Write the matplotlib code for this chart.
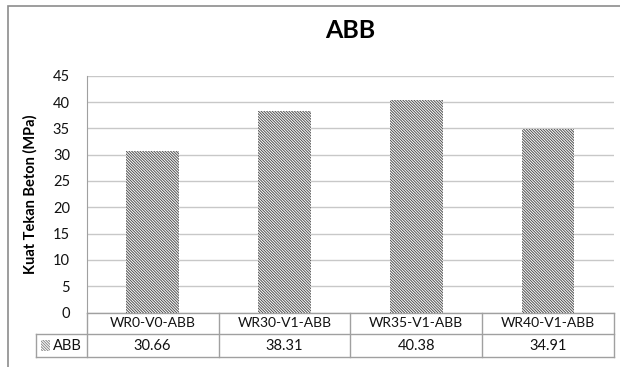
import matplotlib
matplotlib.use('Agg')
import matplotlib.pyplot as plt
from matplotlib.patches import Rectangle
from matplotlib.transforms import blended_transform_factory

plt.rcParams['font.family'] = ['Lato', 'DejaVu Sans']
plt.rcParams['hatch.linewidth'] = 0.7

# data
categories = ['WR0-V0-ABB', 'WR30-V1-ABB', 'WR35-V1-ABB', 'WR40-V1-ABB']
series_name = 'ABB'
strength = [30.66, 38.31, 40.38, 34.91]
y_ticks = [0, 5, 10, 15, 20, 25, 30, 35, 40, 45]

HATCH = '\\' * 12

W, H = 620, 367
fig = plt.figure(figsize=(W / 100, H / 100), dpi=100)

# outer chart border
fig.patches.append(Rectangle((8 / W, -0.05), 1.0, 1 - 6 / H + 0.05,
                             transform=fig.transFigure, fill=False,
                             edgecolor='#8c8c8c', linewidth=1.2))

ax = fig.add_axes([86.7 / W, 1 - 312.5 / H, (614 - 86.7) / W, (312.5 - 75.7) / H])

x = list(range(len(categories)))
ax.bar(x, strength, width=0.4, color='white', edgecolor='#505050',
       hatch=HATCH, linewidth=0, zorder=3)

ax.set_xlim(-0.5, len(categories) - 0.5)
ax.set_ylim(0, 45)
ax.set_yticks(y_ticks)
ax.yaxis.grid(True, color='#c8c8c8', linewidth=1)
ax.set_axisbelow(True)
ax.set_xticks([])
ax.tick_params(axis='y', length=0, labelsize=10.5, pad=12, colors='#111111')
for s in ['top', 'right', 'bottom']:
    ax.spines[s].set_visible(False)
ax.spines['left'].set_color('#a0a0a0')
ax.set_ylabel('Kuat Tekan Beton (MPa)', fontsize=10.5, fontweight='bold')
ax.yaxis.set_label_coords(-(86.7 - 38) / (614 - 86.7), 0.5)

ax.set_title('ABB', fontsize=18, fontweight='bold', pad=(75.7 - 36.5) - 12)

# data table under the axis
tr = blended_transform_factory(ax.transData, ax.transAxes)
ph = 312.5 - 75.7
y0 = 0.0
y1 = -(334 - 312.5) / ph
y2 = -(357 - 312.5) / ph
xl = -0.5 - (86.7 - 36) / 131.8
xr = len(categories) - 0.5
lc = '#a0a0a0'
kw = dict(transform=tr, clip_on=False, color=lc, linewidth=1)
ax.plot([-0.5, xr], [y0, y0], **kw)
ax.plot([xl, xr], [y1, y1], **kw)
ax.plot([xl, xr], [y2, y2], **kw)
ax.plot([xl, xl], [y1, y2], **kw)
for b in range(len(categories) + 1):
    ax.plot([b - 0.5, b - 0.5], [y0, y2], **kw)

for i, (c, v) in enumerate(zip(categories, strength)):
    ax.text(i, (y0 + y1) / 2, c, transform=tr, ha='center', va='center',
            fontsize=10, color='#111111')
    ax.text(i, (y1 + y2) / 2, f'{v:.2f}', transform=tr, ha='center', va='center',
            fontsize=10.5, color='#111111')

# legend key in table
kx = xl + 0.04
ax.add_patch(Rectangle((kx, (y1 + y2) / 2 - 0.022), 0.065, 0.044, transform=tr,
                       clip_on=False, facecolor='white', edgecolor='#888888',
                       hatch=HATCH, linewidth=0))
ax.text(kx + 0.085, (y1 + y2) / 2, series_name, transform=tr, ha='left', va='center',
        fontsize=10.5, color='#111111')

fig.savefig('out.png', dpi=100)
